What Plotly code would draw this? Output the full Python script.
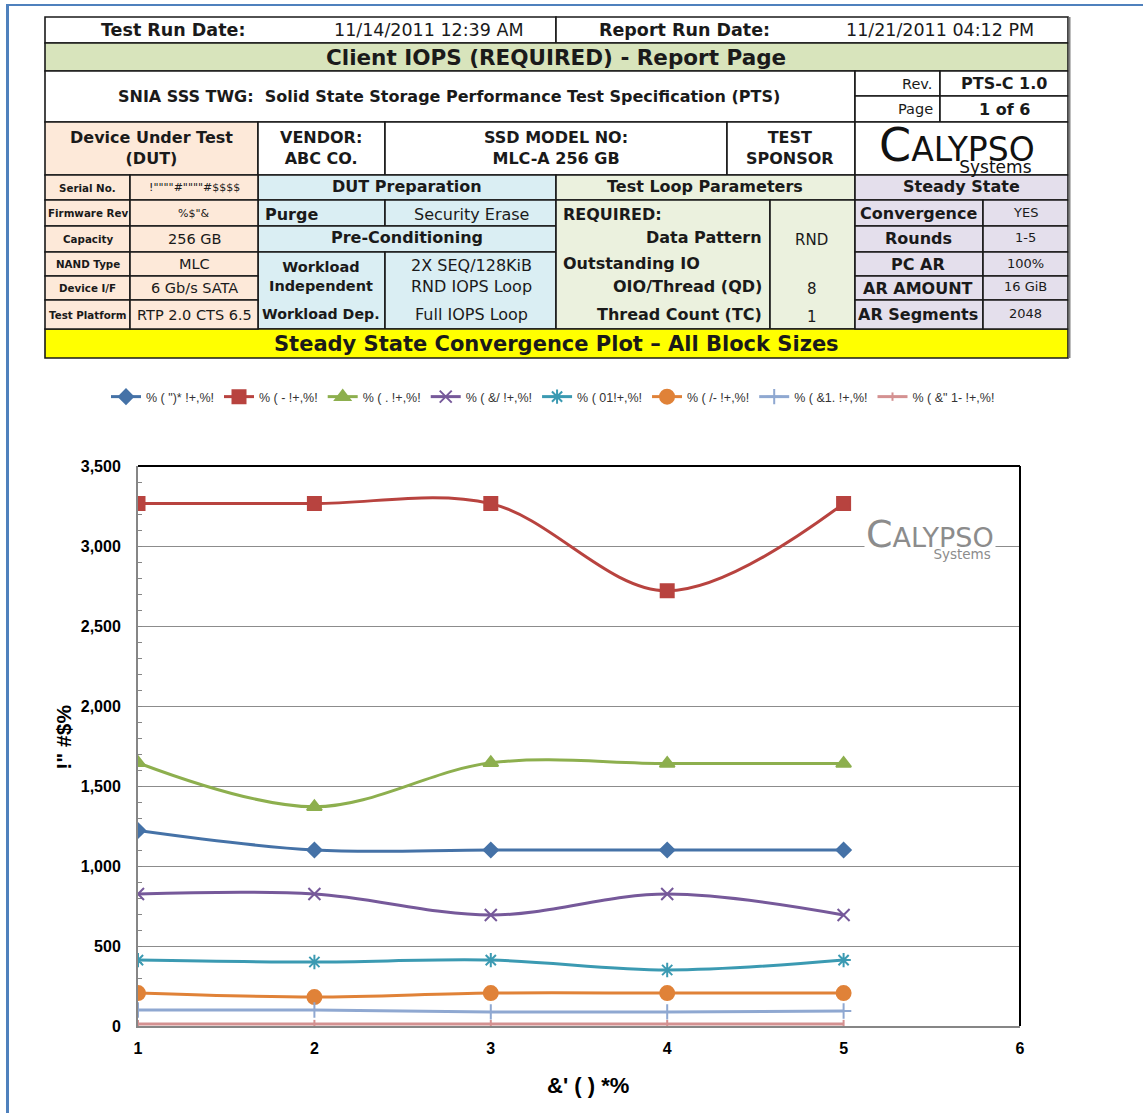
import plotly.graph_objects as go

W, H = 1143, 1113
def X(px): return px / W
def Y(py): return 1 - py / H

# ---------------- data ----------------
rounds = [1, 2, 3, 4, 5]
series_names = ['% ( ")* !+,%!', '% ( - !+,%!', '% ( . !+,%!', '% ( &/ !+,%!',
                '% ( 01!+,%!', '% ( /- !+,%!', '% ( &1. !+,%!', '% ( &" 1- !+,%!']
s1 = [1222, 1100, 1100, 1100, 1100]
s2 = [3265, 3265, 3265, 2720, 3265]
s3 = [1645, 1370, 1645, 1640, 1640]
s4 = [825, 825, 694, 825, 694]
s5 = [412, 400, 412, 350, 412]
s6 = [206, 181, 206, 206, 206]
s7 = [100, 100, 88, 88, 94]
s8 = [12, 12, 12, 12, 12]
series_values = [s1, s2, s3, s4, s5, s6, s7, s8]
line_colors = ['#4572A7', '#B8433F', '#8DAF4E', '#76599A', '#3B9AB2', '#E08238', '#8FA8D1', '#D49191']
marker_symbols = ['diamond', 'square', 'triangle-up', 'x-thin-open', 'asterisk-open',
                  'circle', 'cross-thin-open', 'line-ns-open']
marker_sizes = [11, 13, 13, 12, 12, 14, 11, 6]

x_title = "&' ( ) *%"
y_title = '!" #$%'

fig = go.Figure()
for name, vals, col, sym, sz in zip(series_names, series_values, line_colors, marker_symbols, marker_sizes):
    fig.add_trace(go.Scatter(
        x=rounds, y=vals, name=name, mode='lines+markers',
        line=dict(color=col, width=3, shape='spline', smoothing=1.0),
        marker=dict(symbol=sym, size=sz, color=col, line=dict(color=col, width=2)),
    ))

# ---------------- header table ----------------
PEACH, BLUE, GREENL, LAV, GREEN, YEL = '#FDE9D9', '#DAEEF3', '#EBF1DE', '#E4DFEC', '#D8E4BC', '#FFFF00'
cells = [
    (45, 17, 556, 43, 'white'), (556, 17, 1068, 43, 'white'),
    (45, 43, 1068, 71, GREEN),
    (45, 71, 855, 122, 'white'), (855, 71, 940, 96, 'white'), (940, 71, 1068, 96, 'white'),
    (855, 96, 940, 122, 'white'), (940, 96, 1068, 122, 'white'),
    (45, 122, 258, 175, PEACH), (258, 122, 385, 175, 'white'), (385, 122, 727, 175, 'white'),
    (727, 122, 855, 175, 'white'), (855, 122, 1068, 175, 'white'),
    (258, 175, 556, 200, BLUE), (258, 200, 385, 226, BLUE), (385, 200, 556, 226, BLUE),
    (258, 226, 556, 252, BLUE), (258, 252, 385, 329, BLUE), (385, 252, 556, 329, BLUE),
    (556, 175, 855, 200, GREENL), (556, 200, 770, 329, GREENL), (770, 200, 855, 329, GREENL),
    (855, 175, 1068, 200, LAV),
    (45, 329, 1068, 358, YEL),
]
row_b = [175, 200, 226, 252, 276, 300, 329]
for i in range(6):
    cells.append((45, row_b[i], 130, row_b[i + 1], PEACH))
    cells.append((130, row_b[i], 258, row_b[i + 1], PEACH))
ss_b = [200, 226, 252, 276, 300, 329]
for i in range(5):
    cells.append((855, ss_b[i], 983, ss_b[i + 1], LAV))
    cells.append((983, ss_b[i], 1068, ss_b[i + 1], LAV))

shapes = []
for x0, y0, x1, y1, fc in cells:
    shapes.append(dict(type='rect', xref='paper', yref='paper', x0=X(x0), x1=X(x1), y0=Y(y0), y1=Y(y1),
                       fillcolor=fc, line=dict(color='#1A1A1A', width=1.6), layer='below'))
shapes.append(dict(type='line', xref='paper', yref='paper', x0=X(1069.5), x1=X(1069.5), y0=Y(17), y1=Y(358),
                   line=dict(color='#7F7F7F', width=2)))
# page border (blue)
shapes.append(dict(type='line', xref='paper', yref='paper', x0=X(6), x1=X(1143), y0=Y(5), y1=Y(5),
                   line=dict(color='#4F81BD', width=2)))
shapes.append(dict(type='line', xref='paper', yref='paper', x0=X(7.5), x1=X(7.5), y0=Y(4), y1=Y(1113),
                   line=dict(color='#4F81BD', width=3)))
# plot area top/right border
shapes.append(dict(type='line', xref='x domain', yref='y domain', x0=0, x1=1, y0=1, y1=1,
                   line=dict(color='black', width=2)))
shapes.append(dict(type='line', xref='x domain', yref='y domain', x0=1, x1=1, y0=0, y1=1,
                   line=dict(color='black', width=2)))

VF = 'DejaVu Sans'
ann = []
def T(px, py, text, size=13, bold=False, anchor='center', color='#1A1A1A', family=VF, bg=None,
      yanchor='middle'):
    d = dict(xref='paper', yref='paper', x=X(px), y=Y(py), text=text, showarrow=False,
             xanchor=anchor, yanchor=yanchor, align=anchor if anchor != 'center' else 'center',
             font=dict(family=family, size=size, color=color, weight='bold' if bold else 'normal'))
    if bg:
        d['bgcolor'] = bg
    ann.append(d)

T(173, 30, 'Test Run Date:', 17.5, True)
T(429, 30, '11/14/2011 12:39 AM', 17.5)
T(684, 30, 'Report Run Date:', 17.5, True)
T(940, 30, '11/21/2011 04:12 PM', 17.5)
T(556, 57, 'Client IOPS (REQUIRED) - Report Page', 21.5, True)
T(449, 97, 'SNIA SSS TWG:  Solid State Storage Performance Test Specification (PTS)', 16, True)
T(934, 84, 'Rev.', 14.5, anchor='right')
T(1004, 84, 'PTS-C 1.0', 16, True)
T(935, 109, 'Page', 14.5, anchor='right')
T(1004, 109, '1 of 6', 16, True)
T(151, 148, 'Device Under Test<br>(DUT)', 16, True)
T(321, 148, 'VENDOR:<br>ABC CO.', 16, True)
T(556, 148, 'SSD MODEL NO:<br>MLC-A 256 GB', 16, True)
T(790, 148, 'TEST<br>SPONSOR', 16, True)
# header logo (one text block)
T(1037, 179, "<span style='font-size:46px'>C</span><span style='font-size:33px'>ALYPSO</span><br>"
             "<span style='font-size:17px'>Systems</span><span style='font-size:10px'>&nbsp;</span>",
  9, False, anchor='right', color='#111111', family=VF, yanchor='bottom')

peach_labels = ['Serial No.', 'Firmware Rev', 'Capacity', 'NAND Type', 'Device I/F', 'Test Platform']
peach_values = ['!""""#""""#$$$$', '%$"&', '256 GB', 'MLC', '6 Gb/s SATA', 'RTP 2.0 CTS 6.5']
peach_sizes = [11, 11, 14.5, 14.5, 14.5, 14.5]
for i in range(6):
    cy = (row_b[i] + row_b[i + 1]) / 2
    T(87.5, cy, peach_labels[i], 10.3, True)
    T(194, cy, peach_values[i], peach_sizes[i])

T(407, 187, 'DUT Preparation', 16, True)
T(263, 214, 'Purge', 16, True, anchor='left')
T(471, 214, 'Security Erase', 16)
T(407, 238, 'Pre-Conditioning', 16, True)
T(321, 276, 'Workload<br>Independent', 14.5, True)
T(471, 276, '2X SEQ/128KiB<br>RND IOPS Loop', 16)
T(321, 314, 'Workload Dep.', 14.2, True)
T(471, 315, 'Full IOPS Loop', 16)

T(705, 187, 'Test Loop Parameters', 16, True)
T(561, 214, 'REQUIRED:', 16, True, anchor='left')
T(764, 238, 'Data Pattern', 16, True, anchor='right')
T(811, 240, 'RND', 15)
T(561, 263, 'Outstanding IO', 16, True, anchor='left')
T(764, 287, 'OIO/Thread (QD)', 16, True, anchor='right')
T(812, 289, '8', 15)
T(764, 315, 'Thread Count (TC)', 16, True, anchor='right')
T(812, 317, '1', 15)

T(961, 187, 'Steady State', 16, True)
ss_labels = ['Convergence', 'Rounds', 'PC AR', 'AR AMOUNT', 'AR Segments']
ss_values = ['YES', '1-5', '100%', '16 GiB', '2048']
for i in range(5):
    cy = (ss_b[i] + ss_b[i + 1]) / 2
    T(918, cy, ss_labels[i], 16, True)
    T(1025, cy - 1, ss_values[i], 13)

T(556, 344, 'Steady State Convergence Plot \u2013 All Block Sizes', 21, True)

# chart watermark logo (one text block)
T(996, 564, "<span style='font-size:38px'>C</span><span style='font-size:27px'>ALYPSO</span><br>"
            "<span style='font-size:13.5px'>Systems</span><span style='font-size:9px'>&nbsp;</span>",
  9.5, False, anchor='right', color='#8C8C8C', family=VF, bg='white', yanchor='bottom')

AX = 'Liberation Sans'
fig.update_layout(
    width=W, height=H, margin=dict(l=0, r=0, t=0, b=0),
    paper_bgcolor='white', plot_bgcolor='white',
    shapes=shapes, annotations=ann,
    showlegend=True,
    legend=dict(orientation='h', x=X(106), y=Y(397), xanchor='left', yanchor='middle',
                font=dict(family=AX, size=12.5, color='#333333'),
                itemwidth=30, tracegroupgap=0, bgcolor='rgba(0,0,0,0)'),
    xaxis=dict(domain=[X(138), X(1020)], range=[1, 6], dtick=1, tick0=1, automargin=False,
               showline=True, linecolor='#868686', linewidth=2, showgrid=False, zeroline=False,
               layer='below traces',
               ticks='inside', ticklen=4, tickcolor='#868686',
               tickfont=dict(family=AX, size=16, color='black', weight='bold'),
               ticklabelstandoff=7,
               title=dict(text='&nbsp;&nbsp;&nbsp;' + x_title, standoff=21,
                          font=dict(family=AX, size=22, color='black', weight='bold'))),
    yaxis=dict(domain=[Y(1026), Y(466)], range=[0, 3500], dtick=500, tickformat=',', automargin=False,
               showline=True, linecolor='#868686', linewidth=2, showgrid=True, gridcolor='#8C8C8C',
               gridwidth=1, zeroline=False, ticks='inside', ticklen=4, tickcolor='#868686',
               layer='below traces',
               minor=dict(dtick=100, ticks='inside', ticklen=4, tickcolor='#868686', showgrid=False),
               tickfont=dict(family=AX, size=16, color='black', weight='bold'),
               ticklabelstandoff=12,
               title=dict(text='&nbsp;&nbsp;&nbsp;' + y_title, standoff=3,
                          font=dict(family=AX, size=21, color='black', weight='bold'))),
)

fig.write_html("out.html", config={'displayModeBar': False},
               post_script="document.body.style.margin='0px';document.documentElement.style.overflow='hidden';")
